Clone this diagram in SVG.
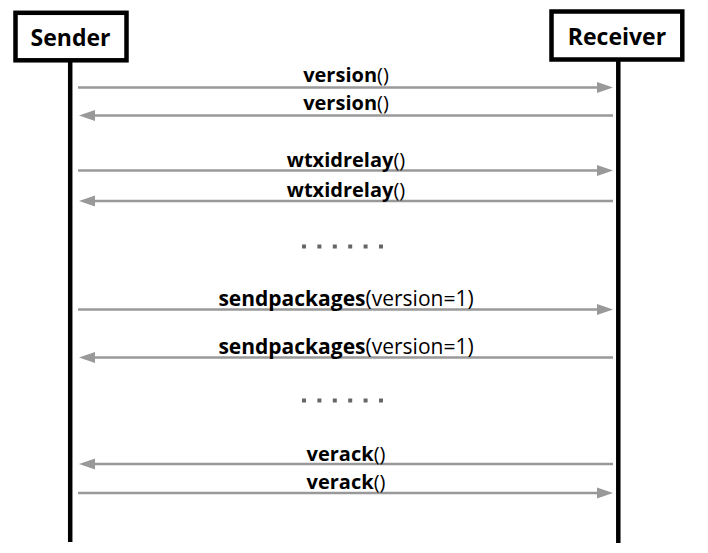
<svg xmlns="http://www.w3.org/2000/svg" width="708" height="553" viewBox="0 0 708 553">
<style>
.box{fill:#fff;stroke:#000;stroke-width:4.5}
.life{stroke:#000;stroke-width:4.5}
.hdr{font-family:"Open Sans","Noto Sans",sans-serif;font-weight:bold;font-size:23px;fill:#000;text-anchor:middle}
.lbl{font-family:"Open Sans","Noto Sans",sans-serif;font-size:20px;fill:#000;text-anchor:middle}
.big{font-size:21px}
.b{font-weight:bold}
.msg{stroke:#999;stroke-width:2.5;fill:none;marker-end:url(#ah)}
.dots{stroke:#666;stroke-width:4;stroke-dasharray:4 11.4}
</style>
<defs>
<marker id="ah" markerUnits="userSpaceOnUse" markerWidth="16" markerHeight="12" refX="8" refY="6" orient="auto">
<path d="M0,0.5 L16,6 L0,11.5 z" fill="#999"/>
</marker>
</defs>
<g id="sender">
<rect class="box" x="15.5" y="12.8" width="111" height="47.5"/>
<text class="hdr" x="70.5" y="46">Sender</text>
</g>
<g id="receiver">
<rect class="box" x="551.5" y="11.5" width="130.8" height="48"/>
<text class="hdr" x="617" y="45">Receiver</text>
</g>
<g id="lifelines">
<line class="life" x1="70.2" y1="62" x2="70.2" y2="542"/>
<line class="life" x1="618.3" y1="61" x2="618.3" y2="543"/>
</g>
<g id="connectors">
<line class="msg" x1="78" y1="87.5" x2="605" y2="87.5"/>
<line class="msg" x1="613" y1="115.5" x2="87" y2="115.5"/>
<line class="msg" x1="78" y1="170.5" x2="605" y2="170.5"/>
<line class="msg" x1="613" y1="201" x2="87" y2="201"/>
<line class="msg" x1="78" y1="309.5" x2="605" y2="309.5"/>
<line class="msg" x1="613" y1="357.5" x2="87" y2="357.5"/>
<line class="msg" x1="613" y1="464" x2="87" y2="464"/>
<line class="msg" x1="78" y1="493" x2="605" y2="493"/>
</g>
<g id="labels">
<text class="lbl" x="346" y="82"><tspan class="b">version</tspan>()</text>
<text class="lbl" x="346" y="110"><tspan class="b">version</tspan>()</text>
<text class="lbl" x="346" y="166.5"><tspan class="b">wtxidrelay</tspan>()</text>
<text class="lbl" x="346" y="196.5"><tspan class="b">wtxidrelay</tspan>()</text>
<text class="lbl big" x="346" y="305.5"><tspan class="b">sendpackages</tspan>(version=1)</text>
<text class="lbl big" x="346" y="353.5"><tspan class="b">sendpackages</tspan>(version=1)</text>
<text class="lbl" x="346" y="460.5"><tspan class="b">verack</tspan>()</text>
<text class="lbl" x="346" y="489"><tspan class="b">verack</tspan>()</text>
</g>
<g id="ellipses">
<line class="dots" x1="302" y1="246.5" x2="384" y2="246.5"/>
<line class="dots" x1="302" y1="400.5" x2="384" y2="400.5"/>
</g>
</svg>
